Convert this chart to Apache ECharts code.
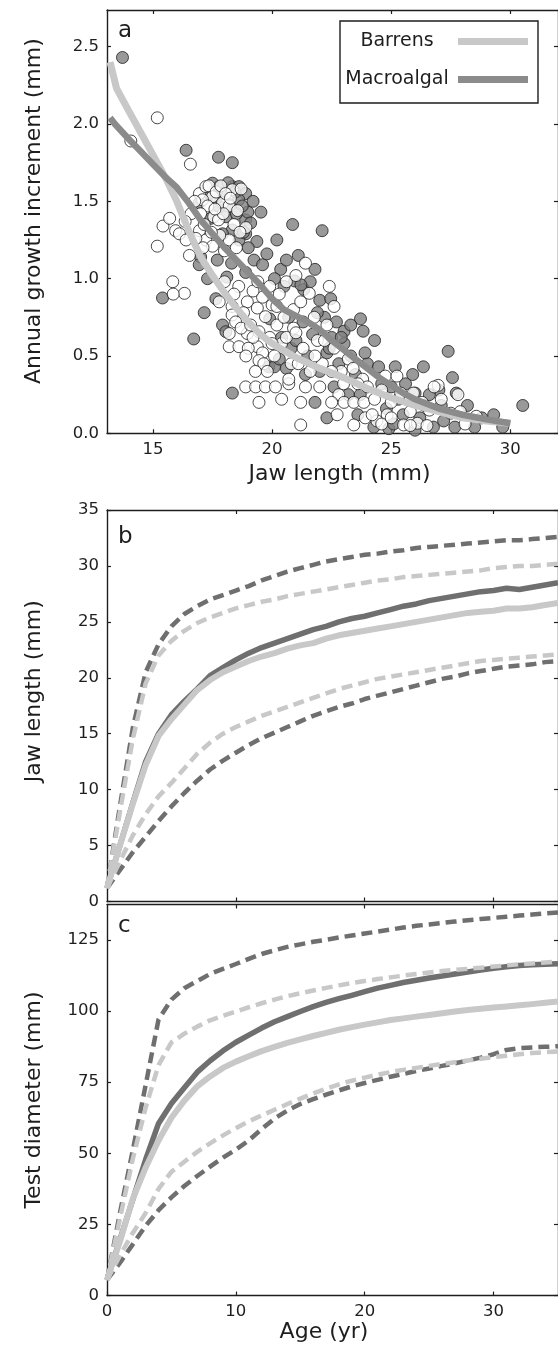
<!DOCTYPE html>
<html>
<head>
<meta charset="utf-8">
<script src="https://cdn.jsdelivr.net/npm/echarts@6/dist/echarts.min.js"></script>
<style>
  html, body { margin: 0; padding: 0; background: #fff; }
  #chart { width: 558px; height: 1352px; }
</style>
</head>
<body>
<div id="chart"></div>
<script>
// ---------- Panel a: annual growth increment against jaw length ----------
const barrensPoints = [
  [14.07,1.89],[15.18,2.04],[16.57,1.74],
  [15.18,1.21],[15.42,1.34],[15.70,1.39],[15.95,1.31],[16.11,1.29],[16.39,1.25],[16.60,1.42],[16.35,1.37],
  [16.53,1.15],[15.83,0.98],[16.32,0.905],[15.85,0.90],
  [16.95,1.55],[17.22,1.595],[17.50,1.53],[17.08,1.51],[17.92,1.49],[18.33,1.575],[17.35,1.60],[17.65,1.56],
  [17.85,1.60],[18.05,1.55],[18.20,1.47],[17.30,1.47],[17.00,1.42],[17.55,1.40],[18.55,1.44],
  [16.95,1.31],[17.22,1.25],[17.50,1.21],[18.20,1.25],[17.80,1.28],[18.50,1.20],[18.90,1.33],[17.10,1.20],
  [16.80,1.26],[18.00,1.18],
  [17.15,1.35],[17.45,1.30],[17.75,1.38],[18.40,1.35],[18.65,1.30],[16.75,1.50],[17.95,1.42],[18.25,1.52],
  [17.60,1.45],[18.70,1.58],
  [17.78,0.85],[18.32,0.82],[18.96,0.85],[19.38,0.81],[18.32,0.765],[18.47,0.72],[18.20,0.645],[18.96,0.645],
  [19.45,0.657],[19.72,0.754],[18.20,0.56],[18.61,0.56],[19.38,0.56],[19.60,0.52],[19.45,0.47],[19.65,0.45],
  [18.70,0.68],[19.10,0.70],[19.90,0.62],[20.20,0.70],[19.90,0.95],[20.30,0.90],[19.60,0.88],[20.60,0.98],
  [20.40,0.58],[20.80,0.45],[20.10,0.50],[19.20,0.92],[18.60,0.95],[20.00,0.83],
  [18.00,0.98],[18.40,0.90],[18.80,0.78],[19.20,0.62],[19.00,0.55],[19.80,0.40],[20.00,0.58],[20.50,0.75],
  [20.20,0.82],[19.40,0.98],[18.90,0.50],[19.30,0.40],[20.60,0.62],[20.90,0.68],
  [18.89,0.30],[19.31,0.30],[19.72,0.30],[20.14,0.30],[19.45,0.20],[20.40,0.22],[20.70,0.32],
  [21.56,0.905],[21.77,0.75],[22.11,0.45],[21.20,0.20],[21.20,0.054],[21.00,0.65],[21.30,0.55],[21.60,0.40],
  [21.90,0.60],[22.30,0.70],[22.60,0.55],[22.00,0.30],[21.40,0.30],[20.90,0.80],[21.20,0.85],[22.40,0.95],
  [20.70,0.35],[22.60,0.82],[21.00,1.02],[21.40,1.10],[22.90,0.40],[23.20,0.48],[22.80,0.25],
  [21.10,0.45],[21.80,0.50],[22.20,0.60],[22.50,0.40],[23.00,0.32],[23.40,0.42],[23.80,0.35],
  [24.75,0.37],[25.24,0.37],[26.97,0.31],[25.93,0.26],[25.52,0.054],[23.43,0.054],[22.73,0.12],[23.91,0.10],
  [24.83,0.12],[26.10,0.065],[28.57,0.11],[23.02,0.20],[23.43,0.20],[23.85,0.20],[24.30,0.22],[24.00,0.30],
  [24.60,0.28],[25.00,0.20],[25.40,0.26],[26.30,0.20],[27.50,0.13],[28.10,0.06],[27.80,0.25],[26.60,0.15],
  [25.80,0.14],[24.40,0.08],[22.50,0.20],[23.60,0.32],
  [24.20,0.12],[24.60,0.06],[25.00,0.10],[25.80,0.05],[26.50,0.05],[27.10,0.22],[26.80,0.30],[27.90,0.14]
];
const macroalgalPoints = [
  [13.72,2.43],[16.39,1.83],[17.75,1.785],[18.33,1.75],
  [15.40,0.875],[17.15,0.78],[16.71,0.61],[18.33,0.26],[17.29,1.00],[18.10,1.01],[19.24,1.12],[19.60,1.09],
  [18.89,1.04],[17.64,0.87],[17.92,0.70],[18.06,0.657],[17.00,1.14],[16.94,1.09],
  [17.50,1.617],[17.78,1.595],[18.33,1.595],[18.61,1.595],[18.89,1.55],[16.95,1.49],[17.43,1.39],[17.78,1.465],
  [18.06,1.40],[18.33,1.315],[18.89,1.38],[18.89,1.29],[18.61,1.25],[17.92,1.29],[18.60,1.51],[18.98,1.43],
  [19.53,1.43],[18.80,1.30],[19.36,1.24],[18.15,1.62],[18.45,1.56],[17.65,1.52],[18.75,1.47],[19.10,1.36],
  [17.35,1.55],[17.90,1.55],[18.20,1.48],[18.50,1.42],[19.20,1.50],[19.00,1.20],[18.30,1.10],[17.70,1.12],
  [19.78,1.16],[20.36,1.06],[20.86,1.35],[22.10,1.31],[20.95,0.985],[21.33,0.93],[21.80,1.06],[20.10,1.00],
  [20.60,1.12],[21.10,1.15],[21.60,0.98],[22.00,0.86],[22.46,0.87],[21.21,0.96],[22.20,0.75],[22.70,0.72],
  [23.02,0.66],[23.02,0.58],[23.71,0.74],[23.82,0.66],[22.50,0.62],[21.70,0.64],[21.30,0.72],[20.70,0.75],
  [20.40,0.62],[19.86,0.43],[20.10,0.43],[19.90,0.74],[20.30,0.48],[20.80,0.55],[21.50,0.50],[22.30,0.52],
  [22.80,0.45],[23.30,0.50],[23.50,0.38],[24.00,0.45],
  [20.20,1.25],[20.50,0.95],[21.00,0.60],[21.90,0.78],[22.40,0.55],[22.90,0.62],[23.30,0.70],[23.90,0.52],
  [24.30,0.60],[24.60,0.32],[25.30,0.22],[25.90,0.38],[26.40,0.18],[27.00,0.28],[22.00,0.40],[21.40,0.38],
  [20.60,0.42],[23.70,0.25],[24.90,0.03],[26.00,0.02],
  [30.52,0.18],[27.39,0.53],[27.57,0.36],[27.73,0.26],[26.35,0.43],[25.17,0.43],[24.47,0.43],[24.27,0.04],
  [26.77,0.04],[27.67,0.04],[28.50,0.04],[29.68,0.04],[25.00,0.30],[25.60,0.32],[26.00,0.26],[26.60,0.25],
  [27.10,0.18],[28.20,0.18],[28.80,0.10],[29.30,0.12],[23.60,0.12],[24.80,0.16],[25.50,0.12],[22.60,0.30],
  [23.20,0.25],[26.20,0.10],[27.20,0.08],[21.80,0.20],[22.30,0.10],[25.10,0.06]
];
const barrensFitJaw = [13.2,13.47,14,14.5,15,15.5,16,16.5,17,17.5,18,18.5,19,19.5,20,21,22,23,24,25,26,27,28,29,30];
const barrensFitInc = [2.40,2.23,2.08,1.94,1.80,1.66,1.50,1.31,1.14,1.02,0.91,0.81,0.72,0.64,0.58,0.49,0.42,0.36,0.29,0.23,0.18,0.14,0.10,0.08,0.065];
const macroFitJaw = [13.2,13.4,14,14.5,15,15.5,16,16.5,17,17.5,18,18.5,19,19.5,20,20.5,21,21.5,22,22.5,23,23.5,24,24.5,25,25.5,26,27,28,29,30];
const macroFitInc = [2.04,2.00,1.90,1.82,1.74,1.66,1.59,1.49,1.38,1.29,1.20,1.12,1.04,0.96,0.87,0.80,0.76,0.72,0.67,0.60,0.54,0.48,0.42,0.36,0.31,0.26,0.22,0.16,0.12,0.09,0.065];

// ---------- Panels b and c: size at age ----------
const ageYears = [0,1,2,3,4,5,6,7,8,9,10,11,12,13,14,15,16,17,18,19,20,21,22,23,24,25,26,27,28,29,30,31,32,33,34,35];

const jawMacroUpper = [1.2,8.5,15.5,20.5,23.0,24.6,25.7,26.4,27.0,27.4,27.8,28.2,28.7,29.1,29.5,29.8,30.1,30.4,30.6,30.8,31.0,31.1,31.3,31.4,31.6,31.7,31.8,31.9,32.0,32.1,32.2,32.3,32.3,32.4,32.5,32.6];
const jawMacroMean  = [1.2,5.0,8.8,12.5,15.0,16.7,17.9,19.0,20.2,20.9,21.6,22.2,22.7,23.1,23.5,23.9,24.3,24.6,25.0,25.3,25.5,25.8,26.1,26.4,26.6,26.9,27.1,27.3,27.5,27.7,27.8,28.0,27.9,28.1,28.3,28.5];
const jawMacroLower = [1.2,2.8,4.4,5.8,7.2,8.5,9.7,10.8,11.8,12.6,13.3,14.0,14.6,15.1,15.6,16.1,16.6,17.0,17.4,17.7,18.1,18.4,18.7,19.0,19.3,19.6,19.9,20.1,20.4,20.6,20.8,21.0,21.1,21.2,21.4,21.5];
const jawBarrensUpper = [1.2,8.0,14.5,19.5,22.0,23.3,24.2,24.9,25.4,25.8,26.2,26.5,26.8,27.0,27.3,27.5,27.7,27.9,28.1,28.3,28.5,28.7,28.8,29.0,29.1,29.2,29.3,29.4,29.5,29.6,29.8,29.9,30.0,30.0,30.1,30.2];
const jawBarrensMean  = [1.2,5.0,8.7,12.2,14.8,16.3,17.6,18.9,19.8,20.5,21.0,21.5,21.9,22.2,22.6,22.9,23.1,23.5,23.8,24.0,24.2,24.4,24.6,24.8,25.0,25.2,25.4,25.6,25.8,25.9,26.0,26.2,26.2,26.3,26.5,26.7];
const jawBarrensLower = [1.2,3.6,5.9,7.8,9.4,10.6,11.9,13.2,14.2,15.0,15.6,16.1,16.6,17.0,17.4,17.8,18.2,18.6,19.0,19.3,19.6,19.9,20.1,20.3,20.5,20.7,20.9,21.1,21.3,21.5,21.6,21.7,21.8,21.9,22.0,22.1];

const testMacroUpper = [5.5,29,51,74,97,104,108,110.5,113,114.8,116.5,118.3,120,121.3,122.5,123.4,124.3,125,125.8,126.5,127.2,127.9,128.6,129.3,129.9,130.4,130.9,131.4,131.9,132.3,132.7,133.1,133.5,133.9,134.3,134.6];
const testMacroMean  = [5.5,19.6,33.7,47.8,60.5,67.5,73,78.5,82.5,86,89,91.5,94,96.2,98,99.8,101.5,103,104.3,105.5,106.8,108,109,110,110.8,111.6,112.3,113,113.7,114.4,115,115.5,116,116.2,116.4,116.6];
const testMacroLower = [5.5,11.5,18,24.5,30,34.5,38.5,42,45.3,48.5,51.3,54.5,58.5,62.2,65,67.3,69,70.6,72.1,73.5,74.7,75.8,76.9,77.9,78.9,79.8,80.7,81.6,82.6,83.6,84.8,86.3,86.9,87.2,87.4,87.6];
const testBarrensUpper = [5.5,27,48,66,81,89,92,94.5,96.7,98.3,99.8,101.3,102.7,104,105.2,106.2,107.2,108.1,109,109.8,110.5,111.2,111.8,112.4,113,113.5,114,114.4,114.8,115.2,115.6,116,116.4,116.7,117,117.4];
const testBarrensMean  = [5.5,19,34,45,54.5,62.5,68.5,73.5,77,80,82.2,84.1,85.9,87.4,88.8,90,91.2,92.3,93.4,94.3,95.2,96,96.8,97.4,98,98.6,99.2,99.8,100.3,100.8,101.2,101.6,102.0,102.4,102.9,103.3];
const testBarrensLower = [5.5,14,22,29,37.5,43.5,47,50.5,53.5,56.3,58.8,61.2,63.3,65.3,67.3,69.2,71,72.7,74.2,75.5,76.6,77.6,78.5,79.3,80,80.7,81.4,82,82.6,83.2,83.8,84.3,84.8,85.2,85.5,85.8];

// Tick values
const jawTicks = [15, 20, 25, 30];
const incrementTicks = [0, 0.5, 1.0, 1.5, 2.0, 2.5];
const ageTicks = [0, 10, 20, 30];
const jawLengthTicks = [0, 5, 10, 15, 20, 25, 30, 35];
const testTicks = [0, 25, 50, 75, 100, 125];

// ---------- Styling ----------
const FONT = 'DejaVu Sans';
const INK = '#1e1e1e';
const LIGHT = '#c8c8c8';
const MID = '#8b8b8b';
const DARK = '#6f6f6f';

const pairs = (xs, ys) => xs.map((x, i) => [x, ys[i]]);

function frameAxis(opts) {
  // one side of a boxed plot frame, ticks pointing inwards
  return Object.assign({
    type: 'value',
    splitLine: { show: false },
    axisLine: { show: true, onZero: false, lineStyle: { color: INK, width: 1.4 } },
    axisTick: { show: true, inside: true, length: 4, lineStyle: { color: INK, width: 1.2 }, customValues: opts.ticks },
    axisLabel: opts.labels
      ? { show: true, customValues: opts.ticks, color: INK, fontFamily: FONT, fontSize: 16.5, margin: 8,
          formatter: opts.fmt || (v => String(v)) }
      : { show: false },
    nameTextStyle: { color: INK, fontFamily: FONT, fontSize: 22 }
  }, opts.extra);
}

const grids = [
  { left: 107, top: 10, width: 454, height: 423.3 },
  { left: 107, top: 510, width: 454, height: 391.5 },
  { left: 107, top: 904.5, width: 454, height: 391.1 }
];

const xAxes = [
  frameAxis({ ticks: jawTicks, labels: true, extra: {
    gridIndex: 0, position: 'bottom', min: 13.07, max: 32,
    name: 'Jaw length (mm)', nameLocation: 'middle', nameGap: 30,
    nameTextStyle: { color: INK, fontFamily: FONT, fontSize: 22, padding: [0, 0, 0, 14] } } }),
  frameAxis({ ticks: jawTicks, labels: false, extra: { gridIndex: 0, position: 'top', min: 13.07, max: 32 } }),
  frameAxis({ ticks: [10, 20, 30], labels: false, extra: { gridIndex: 1, position: 'bottom', min: 0, max: 35 } }),
  frameAxis({ ticks: [10, 20, 30], labels: false, extra: { gridIndex: 1, position: 'top', min: 0, max: 35 } }),
  frameAxis({ ticks: ageTicks, labels: true, extra: {
    gridIndex: 2, position: 'bottom', min: 0, max: 35,
    name: 'Age (yr)', nameLocation: 'middle', nameGap: 26,
    nameTextStyle: { color: INK, fontFamily: FONT, fontSize: 22, padding: [0, 17, 0, 0] } } }),
  frameAxis({ ticks: [10, 20, 30], labels: false, extra: { gridIndex: 2, position: 'top', min: 0, max: 35 } })
];

const yAxes = [
  frameAxis({ ticks: incrementTicks, labels: true, fmt: v => v.toFixed(1), extra: {
    gridIndex: 0, position: 'left', min: 0, max: 2.737,
    name: 'Annual growth increment (mm)', nameLocation: 'middle', nameGap: 62,
    nameTextStyle: { color: INK, fontFamily: FONT, fontSize: 22, padding: [0, 0, 0, 21] } } }),
  frameAxis({ ticks: incrementTicks, labels: false, extra: { gridIndex: 0, position: 'right', min: 0, max: 2.737 } }),
  frameAxis({ ticks: jawLengthTicks, labels: true, extra: {
    gridIndex: 1, position: 'left', min: 0, max: 35,
    name: 'Jaw length (mm)', nameLocation: 'middle', nameGap: 62,
    nameTextStyle: { color: INK, fontFamily: FONT, fontSize: 22, padding: [0, 0, 0, 29] } } }),
  frameAxis({ ticks: jawLengthTicks, labels: false, extra: { gridIndex: 1, position: 'right', min: 0, max: 35 } }),
  frameAxis({ ticks: testTicks, labels: true, extra: {
    gridIndex: 2, position: 'left', min: 0, max: 137.4,
    name: 'Test diameter (mm)', nameLocation: 'middle', nameGap: 62,
    nameTextStyle: { color: INK, fontFamily: FONT, fontSize: 22 } } }),
  frameAxis({ ticks: testTicks, labels: false, extra: { gridIndex: 2, position: 'right', min: 0, max: 137.4 } })
];

function scatterSeries(name, data, fill, z) {
  return {
    type: 'scatter', name, data, xAxisIndex: 0, yAxisIndex: 0, z,
    symbol: 'circle', symbolSize: 12,
    itemStyle: { color: fill, borderColor: INK, borderWidth: 1 },
    emphasis: { disabled: true }
  };
}

function curve(name, data, axis, color, width, dashed, z) {
  return {
    type: 'line', name, data, xAxisIndex: axis, yAxisIndex: axis, z,
    showSymbol: false, symbol: 'none', color,
    lineStyle: { color, width, type: dashed ? [11, 6] : 'solid', cap: 'butt', join: 'round' },
    emphasis: { disabled: true }
  };
}

const series = [
  scatterSeries('Macroalgal urchins', macroalgalPoints, '#808080', 2),
  scatterSeries('Barrens urchins', barrensPoints, '#ffffff', 3),
  curve('Barrens', pairs(barrensFitJaw, barrensFitInc), 0, LIGHT, 7, false, 4),
  curve('Macroalgal', pairs(macroFitJaw, macroFitInc), 0, MID, 6.5, false, 5),

  curve('Macroalgal jaw upper', pairs(ageYears, jawMacroUpper), 2, DARK, 4.5, true, 4),
  curve('Macroalgal jaw lower', pairs(ageYears, jawMacroLower), 2, DARK, 4.5, true, 4),
  curve('Macroalgal jaw mean', pairs(ageYears, jawMacroMean), 2, DARK, 5.5, false, 4),
  curve('Barrens jaw upper', pairs(ageYears, jawBarrensUpper), 2, LIGHT, 4.5, true, 5),
  curve('Barrens jaw lower', pairs(ageYears, jawBarrensLower), 2, LIGHT, 4.5, true, 5),
  curve('Barrens jaw mean', pairs(ageYears, jawBarrensMean), 2, LIGHT, 6, false, 5),

  curve('Macroalgal test upper', pairs(ageYears, testMacroUpper), 4, DARK, 4.5, true, 4),
  curve('Macroalgal test lower', pairs(ageYears, testMacroLower), 4, DARK, 4.5, true, 4),
  curve('Macroalgal test mean', pairs(ageYears, testMacroMean), 4, DARK, 5.5, false, 4),
  curve('Barrens test upper', pairs(ageYears, testBarrensUpper), 4, LIGHT, 4.5, true, 5),
  curve('Barrens test lower', pairs(ageYears, testBarrensLower), 4, LIGHT, 4.5, true, 5),
  curve('Barrens test mean', pairs(ageYears, testBarrensMean), 4, LIGHT, 6, false, 5)
];

const panelLetter = (text, left, top) => ({
  text, left, top, padding: 0,
  textStyle: { color: INK, fontFamily: FONT, fontSize: 23, fontWeight: 'normal' }
});

const chart = echarts.init(document.getElementById('chart'), null, { renderer: 'canvas' });
chart.setOption({
  animation: false,
  backgroundColor: '#ffffff',
  title: [panelLetter('a', 118, 20), panelLetter('b', 118, 526), panelLetter('c', 118, 915)],
  grid: grids,
  xAxis: xAxes,
  yAxis: yAxes,
  legend: {
    data: [{ name: 'Barrens', icon: 'rect' }, { name: 'Macroalgal', icon: 'rect' }],
    orient: 'vertical', align: 'right',
    left: 340, top: 21,
    padding: [11, 10, 14, 1],
    itemGap: 19, itemWidth: 70, itemHeight: 7,
    selectedMode: false,
    backgroundColor: '#ffffff', borderColor: INK, borderWidth: 1.4,
    formatter: name => '{t|' + name + '}',
    textStyle: {
      color: INK, fontFamily: FONT, fontSize: 19,
      rich: { t: { width: 112, align: 'center', fontFamily: FONT, fontSize: 19, lineHeight: 24, color: INK } }
    }
  },
  series
});
</script>
</body>
</html>
